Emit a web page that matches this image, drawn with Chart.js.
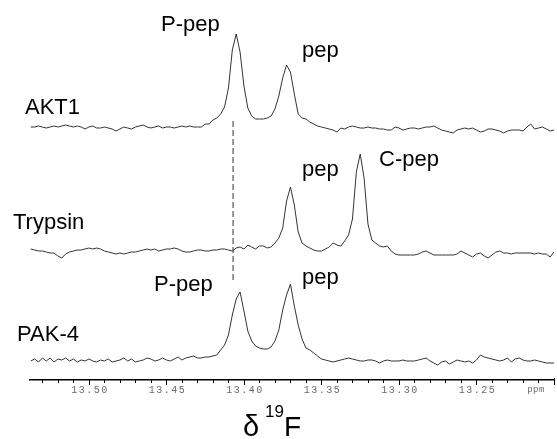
<!DOCTYPE html>
<html>
<head>
<meta charset="utf-8">
<script src="https://cdn.jsdelivr.net/npm/chart.js@4"></script>
<style>
  html, body { margin: 0; padding: 0; background: #fff; }
</style>
</head>
<body>
<canvas id="nmr" width="557" height="439"></canvas>
<script>
// 19F spectra, one sample every 0.0025 ppm starting at 13.5375 ppm (left edge)
const ppmStart = 13.5375;
const ppmStep = 0.0025;

// intensities above each trace's own baseline (arbitrary units)
const akt1 = [
  1, 1, 2, 1, 0, 1, 2, 1, 2, 3, 2, 1, 2, 1, -1, 1, 2, 0, 0, 1,
  0, -1, -3, -1, 1, 0, -1, 1, 2, 3, 1, 0, 1, 2, 0, 1, 1, 0, 1, 2, 1,
  2, 1, 1, 1, 4, 4, 8, 10, 14, 21, 40, 78, 94, 76, 42, 20, 12, 9, 9, 9,
  10, 12, 19, 32, 50, 63, 56, 34, 14, 10, 9, 6, 4, 2,
  1, 0, -1, -2, -4, 0, -1, 1, 2, 1, 0, 0, 1, 0, 0, -1, -1, -2, -2, 1,
  0, -2, -1, 0, 0, -1, 0, 1, 1, 2, 0, -2, -3, -4, -5, -2, -1, 0, -1, 0,
  -2, -4, -3, -1, -1, -2, -3, -5, -3, -2, -2, -2, -3, 1, 4, -1, 0, 1, -1, -3, -2
];
const trypsin = [
  3, 2, 1, 1, 0, -1, -1, -4, -6, -2, 0, 1, 2, 2, 3, 4, 3, 4, 3, 1,
  0, -1, -2, -1, -2, -1, 0, 0, 1, 2, 3, 2, 3, 1, 2, 3, 3, 4, 3, 1,
  0, 0, 1, 2, 2, 1, 1, 2, 2, 3, 3, 2, 1, 4, 5,
  3, 7, 5, 3, 6, 6, 4, 5, 9, 14, 24, 51, 65, 47, 20, 9, 6, 4, 2, 1,
  1, 3, 5, 9, 7, 6, 11, 17, 33, 80, 98, 74, 28, 12, 9, 6, 5, 6, 1,
  -2, -3, -3, -3, -3, -3, -2, 0, 1, -1, -3, -3, -3, -3, -3, -3, -2, 1, -1, -3,
  -5, -2, -1, -4, -6, -3, 0, 1, -1, -1, -2, -1, -1, -1, -1, -1, -2, -1, -2, -2, -5, 0
];
const pak4 = [
  0, 2, -1, 3, 0, 3, -1, 2, 1, 3, 0, 2, -1, 1, 0, 2, 0, -1, 1, 0,
  2, -1, 0, 1, 3, 0, 2, -1, 0, 1, 3, 2, 0, 1, 3, 1, 0, 2, 4, 1, 3,
  4, 5, 3, 3, 4, 4, 5, 6, 11, 16, 26, 46, 62, 69, 50, 30, 20, 15, 13, 12,
  12, 14, 20, 31, 51, 66, 77, 55, 36, 22, 13, 11, 8, 5, 2,
  1, 0, -1, 0, 1, 2, 3, 2, 1, 0, 0, 1, 1, 0, -2, 0, 1, 0, 0, 0,
  1, 0, 0, 0, 1, 2, 3, 0, -2, -4, -1, 0, -3, -1, 1, 0, -1, 0, -2, 1,
  6, 4, 3, 2, 1, 0, 1, 3, -1, 2, 3, 1, 0, 0, 1, 0, -1, -2, -2, -2
];

// axis
const tickValues = [13.50, 13.45, 13.40, 13.35, 13.30, 13.25];
const tickLabels = ['13.50', '13.45', '13.40', '13.35', '13.30', '13.25'];
const unitLabel = 'ppm';

// dashed guide at the P-pep shift, drawn on the PAK-4 scale
const markerPpm = 13.407;
const markerSpan = [240, 79];

const peakLabels = [
  { text: 'P-pep', x: 161, y: 31 },
  { text: 'pep', x: 302, y: 57 },
  { text: 'AKT1', x: 25, y: 114 },
  { text: 'C-pep', x: 379, y: 166 },
  { text: 'pep', x: 302, y: 176 },
  { text: 'Trypsin', x: 13, y: 229 },
  { text: 'P-pep', x: 154, y: 291 },
  { text: 'pep', x: 302, y: 284 },
  { text: 'PAK-4', x: 17, y: 341 }
];

const toPoints = arr => arr.map((v, i) => ({ x: ppmStart - i * ppmStep, y: v }));

const traceStyle = { borderColor: '#333', borderWidth: 1, pointRadius: 0, tension: 0, fill: false };

const decorate = {
  id: 'decorate',
  afterDraw(chart) {
    const ctx = chart.ctx;
    const xs = chart.scales.x;
    const axisY = chart.chartArea.bottom;
    ctx.save();

    // tick marks every 0.01 ppm, longer at every 0.05
    ctx.strokeStyle = '#000';
    ctx.lineWidth = 1;
    for (let h = 1320; h <= 1353; h++) {
      const px = Math.round(xs.getPixelForValue(h / 100)) + 0.5;
      const major = h % 5 === 0;
      ctx.beginPath();
      ctx.moveTo(px, h === 1320 ? axisY - 2 : axisY);
      ctx.lineTo(px, axisY + (major ? 5 : 3));
      ctx.stroke();
    }

    // tick labels
    ctx.fillStyle = '#6a6a6a';
    ctx.textBaseline = 'alphabetic';
    ctx.textAlign = 'center';
    ctx.font = '10px "Liberation Mono", monospace';
    ctx.letterSpacing = '1.5px';
    tickValues.forEach((v, i) => {
      ctx.fillText(tickLabels[i], xs.getPixelForValue(v) + 1, axisY + 13);
    });
    ctx.font = '9px "Liberation Mono", monospace';
    ctx.letterSpacing = '0.5px';
    ctx.fillText(unitLabel, xs.getPixelForValue(13.20) - 18, axisY + 12);
    ctx.letterSpacing = '0px';

    // axis title: delta 19F
    ctx.fillStyle = '#000';
    ctx.textAlign = 'left';
    ctx.font = '29px "Liberation Sans", Arial, sans-serif';
    ctx.fillText('δ', 243, 436);
    ctx.font = '17px "Liberation Sans", Arial, sans-serif';
    ctx.fillText('19', 265, 417);
    ctx.font = '28px "Liberation Sans", Arial, sans-serif';
    ctx.fillText('F', 284, 436);

    // peak and sample labels
    ctx.font = '22px "Liberation Sans", Arial, sans-serif';
    peakLabels.forEach(l => ctx.fillText(l.text, l.x, l.y));

    ctx.restore();
  }
};

new Chart(document.getElementById('nmr'), {
  type: 'line',
  data: {
    datasets: [
      Object.assign({ label: 'AKT1', data: toPoints(akt1), yAxisID: 'yA' }, traceStyle),
      Object.assign({ label: 'Trypsin', data: toPoints(trypsin), yAxisID: 'yT' }, traceStyle),
      Object.assign({ label: 'PAK-4', data: toPoints(pak4), yAxisID: 'yP' }, traceStyle),
      {
        label: 'marker',
        data: markerSpan.map(v => ({ x: markerPpm, y: v })),
        yAxisID: 'yP',
        borderColor: '#777',
        borderWidth: 1.5,
        borderDash: [6, 3],
        pointRadius: 0
      }
    ]
  },
  options: {
    responsive: false,
    animation: false,
    devicePixelRatio: 1,
    layout: { padding: { left: 30, right: 3, top: 0, bottom: 0 } },
    plugins: { legend: { display: false }, tooltip: { enabled: false } },
    scales: {
      x: {
        type: 'linear',
        min: 13.20,
        max: 13.538,
        reverse: true,
        grid: { display: false },
        ticks: { display: false },
        border: { display: true, color: '#000', width: 1.5 },
        afterFit: s => { s.height = 59; }
      },
      // each trace gets its own vertical range so the three spectra stack
      yA: { display: false, min: -252, max: 128 },
      yT: { display: false, min: -128, max: 252 },
      yP: { display: false, min: -19, max: 361 }
    }
  },
  plugins: [decorate]
});
</script>
</body>
</html>
